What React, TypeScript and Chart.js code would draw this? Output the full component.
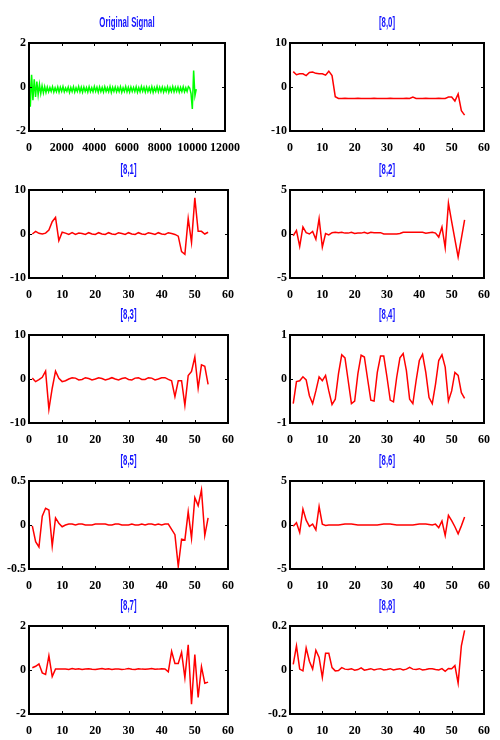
import React, { useEffect, useRef } from "react";
import { Chart, registerables } from "chart.js";

Chart.register(...registerables);

// ---------- DATA ----------
const ORIG_STEP = 80; // sample spacing of the original signal
const originalSignal = [
  0.95, -0.9, 0.55, -0.6, 0.35, -0.45, 0.25, -0.35, 0.12, -0.3, 0.05, -0.27, 0.02, -0.25,
  0.0, -0.22, -0.02, -0.2, 0.01, -0.23, -0.03, -0.21, 0.0, -0.24,
  -0.01, -0.2, 0.02, -0.22, -0.04, -0.19, 0.0, -0.25, -0.02, -0.21,
  0.01, -0.23, -0.03, -0.2, 0.02, -0.22, -0.01, -0.24, 0.0, -0.2,
  -0.02, -0.23, 0.01, -0.21, -0.03, -0.22, 0.02, -0.2, -0.01, -0.24,
  0.0, -0.21, -0.02, -0.23, 0.01, -0.2, -0.03, -0.22, 0.02, -0.25,
  -0.01, -0.2, 0.0, -0.22, -0.02, -0.21, 0.01, -0.24, -0.03, -0.2,
  0.02, -0.22, -0.01, -0.23, 0.0, -0.2, -0.02, -0.21, 0.01, -0.24,
  -0.03, -0.22, 0.02, -0.2, -0.01, -0.23, 0.0, -0.21, -0.02, -0.22,
  0.01, -0.25, -0.03, -0.2, 0.02, -0.22, -0.01, -0.21, 0.0, -0.23,
  -0.02, -0.2, 0.01, -0.24, -0.03, -0.21, 0.02, -0.22, -0.01, -0.2,
  0.0, -0.23, -0.02, -0.21, 0.01, -0.22, -0.03, -0.2, 0.02,
  -0.05, -0.3, -1.0, 0.75, -0.4, -0.1,
];

const coefIndex = [
  1, 2, 3, 4, 5, 6, 7, 8, 9, 10, 11, 12, 13, 14, 15, 16, 17, 18, 19, 20,
  21, 22, 23, 24, 25, 26, 27, 28, 29, 30, 31, 32, 33, 34, 35, 36, 37, 38, 39, 40,
  41, 42, 43, 44, 45, 46, 47, 48, 49, 50, 51, 52, 53, 54,
];

const coef80 = [
  3.5, 2.8, 3.0, 3.0, 2.6, 3.3, 3.4, 3.1, 3.0, 3.0, 2.7, 3.6, 2.6,
  -2.2,
  -2.6, -2.6, -2.55, -2.6, -2.6, -2.6, -2.55, -2.6, -2.6, -2.6, -2.6, -2.55, -2.6, -2.6,
  -2.6, -2.6, -2.55, -2.6, -2.6, -2.6, -2.6, -2.55, -2.6,
  -2.3,
  -2.6, -2.6, -2.6, -2.55, -2.6, -2.6, -2.6, -2.55, -2.6, -2.6,
  -2.3, -2.3, -3.2, -1.6, -5.4, -6.4,
];

const coef81 = [
  0, 0.6, 0.15, 0, 0.2, 0.9, 2.8, 3.8, -1.5, 0.4,
  0.2, -0.1, 0.3, -0.1, 0.2, 0.1, -0.1, 0.3, 0, -0.1, 0.3, 0, -0.1, 0.3, 0, -0.1, 0.3,
  0.1, -0.1, 0.3, 0, -0.1, 0.3, 0, -0.1, 0.3, 0.1, -0.1, 0.3, 0, -0.1, 0.3, 0.1, -0.1,
  -0.5, -4.0, -4.6, 3.5, -1.9, 8.2, 0.6, 0.6, 0, 0.4,
];

const coef82 = [
  -0.2, 0.4, -1.4, 0.8, 0.15, 0, 0.3, -0.6, 1.75, -1.5, 0.05, -0.1, 0.15,
  0.2, 0.15, 0.2, 0.1, 0.1, 0.2, 0.05, 0.1, 0.1, 0.2, 0.05, 0.2, 0.15, 0.15, 0.15, 0.0,
  0.0, 0.0, 0.0, 0.0, 0.05, 0.2, 0.2, 0.2, 0.2, 0.2, 0.2, 0.2, 0.1, 0.15, 0.2, 0.1,
  -0.35, 0.8, -1.55, 3.5, 1.4, -0.6, -2.6, -0.5, 1.6,
];

const coef83 = [
  0.2, -0.6, -0.15, 0.4, 1.8, -6.9, -2.1, 1.8, 0.15, -0.6, -0.4,
  0, 0.3, 0.2, -0.2, -0.1, 0.3, 0.1, -0.2, 0, 0.3, 0.1, -0.2, 0, 0.3, 0, -0.2,
  0.1, 0.3, -0.1, -0.2, 0.2, 0.3, -0.1, -0.1, 0.3, 0.2, -0.2, 0, 0.3, 0.3, -0.1,
  -0.4, -4.0, -0.4, -0.4, -6.0, 0.8, 1.7, 5.0, -2.1, 3.2, 2.9, -1.2,
];

const coef84 = [
  -0.56, -0.06, -0.04, 0.05, -0.02, -0.38, -0.56, -0.27, 0.05, -0.04,
  0.08, -0.27, -0.58, -0.46, 0.12, 0.55, 0.48, -0.04, -0.56, -0.5,
  0.12, 0.54, 0.5, 0, -0.48, -0.5, 0.15, 0.52, 0.52, 0.04,
  -0.48, -0.52, 0.04, 0.48, 0.58, 0.19, -0.46, -0.56, -0.04, 0.42,
  0.56, 0.15, -0.42, -0.56, -0.12, 0.42, 0.55, 0.27, -0.5, -0.27,
  0.15, 0.08, -0.31, -0.44,
];

const coef85 = [
  -0.01, -0.19, -0.25, 0.1, 0.19, 0.17, -0.24, 0.08, 0.02, -0.02,
  0, 0.01, 0.01, 0, 0.01, 0.01, 0, 0, 0, 0.01, 0.01, 0.01, 0.01, 0, 0, 0.01,
  0.01, 0, 0, 0, 0.01, 0, 0, 0.01, 0, 0.01, 0.01, 0, 0.01, 0, 0.01, 0.01,
  -0.05, -0.11, -0.47, -0.16, -0.17, 0.15, -0.15, 0.31, 0.22, 0.4, -0.12, 0.08,
];

const coef86 = [
  -0.15, 0.25, -0.85, 1.8, 0.55, -0.15, 0.1, -0.55, 2.1, 0.1, -0.05,
  0, 0, 0, 0, 0.05, 0.1, 0.1, 0.1, 0.05, 0, 0, 0, 0, 0, 0, 0, 0.05,
  0.1, 0.1, 0.1, 0.05, 0, 0, 0, 0, 0, 0, 0.05, 0.1, 0.1, 0.1, 0.05, 0,
  0.1, -0.3, 0.45, -1.2, 1.1, 0.5, -0.2, -1.0, -0.1, 0.9,
];

const coef87 = [
  0.1, 0.17, 0.28, -0.13, -0.2, 0.65, -0.3, 0.05,
  0.05, 0.05, 0.05, 0.02, 0.07, 0.03, 0.06, 0.02, 0.05, 0.06, 0.03, 0.02, 0.05,
  0.07, 0.03, 0.06, 0.02, 0.05, 0.05, 0.02, 0.04, 0.07, 0.03, 0.02, 0.06, 0.04,
  0.03, 0.05, 0.07, 0.03, 0.04, 0.06, 0.05,
  -0.08, 0.85, 0.3, 0.3, 0.8, -0.35, 1.15, -1.55, 0.7, -1.25, 0.15, -0.6, -0.55,
];

const coef88 = [
  0.026, 0.11, 0.004, -0.004, 0.1, 0.04, 0.004, 0.09, 0.057, -0.034, 0.076, 0.076,
  0.011, -0.004, -0.002, 0.011,
  0.004, 0.002, 0.006, -0.001, 0.002, 0.01, -0.001, 0.002, 0.006, 0.0, 0.004,
  0.006, 0.0, 0.002, 0.006, 0.0, 0.003, 0.006, 0.0, 0.004, 0.012, 0.004, 0.002,
  0.006, 0.0, 0.002, 0.006, 0.006, 0.002, 0.0, 0.006,
  -0.006, 0.007, 0.006, 0.02, -0.06, 0.11, 0.18,
];

const panelTitles = ["Original Signal", "[8,0]", "[8,1]", "[8,2]", "[8,3]", "[8,4]", "[8,5]", "[8,6]", "[8,7]", "[8,8]"];
const panelSeries = [originalSignal, coef80, coef81, coef82, coef83, coef84, coef85, coef86, coef87, coef88];
const panelYLimits = [2, 10, 10, 5, 10, 1, 0.5, 5, 2, 0.2];
const origXMax = 12000;
const origXStep = 2000;
const coefXMax = 60;
const coefXStep = 10;

// ---------- LAYOUT ----------
const AXIS_TOPS = [43, 189.5, 335, 480.5, 626];
const AXIS_H = 88;
const TITLE_SPACE = 30;
const CANVAS_W = 250;
const CANVAS_H = 140;
const COL_LEFT = [29, 290];
const COL_RIGHT = [228, 489];

const TICK_FONT = { family: "'Liberation Serif', 'Times New Roman', serif", size: 12, weight: "bold" as const };

// MATLAB-like box with inward tick marks on all four sides
const framePlugin = {
  id: "matlabFrame",
  afterDatasetsDraw(chart: any) {
    const { ctx, chartArea: a, scales } = chart;
    ctx.save();
    ctx.strokeStyle = "#000";
    ctx.lineWidth = 2;
    ctx.strokeRect(a.left, a.top, a.right - a.left, a.bottom - a.top);
    ctx.lineWidth = 1;
    ctx.beginPath();
    scales.x.ticks.forEach((t: any) => {
      const px = Math.round(scales.x.getPixelForValue(t.value)) + 0.5;
      ctx.moveTo(px, a.top);
      ctx.lineTo(px, a.top + 3);
      ctx.moveTo(px, a.bottom);
      ctx.lineTo(px, a.bottom - 3);
    });
    scales.y.ticks.forEach((t: any) => {
      const py = Math.round(scales.y.getPixelForValue(t.value)) + 0.5;
      ctx.moveTo(a.left, py);
      ctx.lineTo(a.left + 3, py);
      ctx.moveTo(a.right, py);
      ctx.lineTo(a.right - 3, py);
    });
    ctx.stroke();
    ctx.restore();
  },
};

// Narrow (horizontally condensed) blue title, centred over the plot box
const condensedTitlePlugin = {
  id: "condTitle",
  afterDraw(chart: any, _args: any, opts: any) {
    const { ctx, chartArea: a } = chart;
    ctx.save();
    ctx.font = "bold 14px 'Liberation Sans', Arial, sans-serif";
    ctx.fillStyle = "#1414ff";
    ctx.textAlign = "center";
    ctx.textBaseline = "middle";
    ctx.translate((a.left + a.right) / 2, a.top - 20);
    ctx.scale(0.56, 1);
    ctx.fillText(opts.text, 0, 0);
    ctx.restore();
  },
};

function Panel({ index }: { index: number }) {
  const ref = useRef<HTMLCanvasElement>(null);
  const col = index % 2;
  const row = Math.floor(index / 2);
  const isOrig = index === 0;
  const canvasLeft = col * CANVAS_W;
  const canvasTop = AXIS_TOPS[row] - TITLE_SPACE;

  useEffect(() => {
    if (!ref.current) return;
    const series = panelSeries[index];
    const points = series.map((v, i) => ({ x: isOrig ? i * ORIG_STEP : coefIndex[i], y: v }));
    const lim = panelYLimits[index];
    const yAxisWidth = COL_LEFT[col] - canvasLeft;
    const rightPad = canvasLeft + CANVAS_W - COL_RIGHT[col];
    const chart = new Chart(ref.current, {
      type: "line",
      data: {
        datasets: [
          {
            data: points,
            borderColor: isOrig ? "#00ff00" : "#ff0000",
            borderWidth: 1.5,
            pointRadius: 0,
            tension: 0,
            fill: false,
          },
        ],
      },
      options: {
        animation: false,
        responsive: false,
        events: [],
        layout: { padding: { left: 0, right: rightPad, top: TITLE_SPACE, bottom: 0 } },
        plugins: {
          legend: { display: false },
          tooltip: { enabled: false },
          title: { display: false },
          condTitle: { text: panelTitles[index] },
        },
        scales: {
          x: {
            type: "linear",
            min: 0,
            max: isOrig ? origXMax : coefXMax,
            grid: { display: false, drawTicks: false },
            border: { display: false },
            ticks: {
              stepSize: isOrig ? origXStep : coefXStep,
              color: "#000",
              font: TICK_FONT,
              padding: 10,
              maxRotation: 0,
              autoSkip: false,
              callback: (v: any) => String(v),
            },
            afterFit: (axis: any) => {
              axis.height = CANVAS_H - TITLE_SPACE - AXIS_H;
            },
          },
          y: {
            type: "linear",
            min: -lim,
            max: lim,
            grid: { display: false, drawTicks: false },
            border: { display: false },
            ticks: {
              stepSize: lim,
              color: "#000",
              font: TICK_FONT,
              padding: 3,
              callback: (v: any) => String(v),
            },
            afterFit: (axis: any) => {
              axis.width = yAxisWidth;
            },
          },
        },
      },
      plugins: [framePlugin, condensedTitlePlugin],
    } as any);
    return () => chart.destroy();
  }, []);

  return (
    <canvas
      ref={ref}
      width={CANVAS_W}
      height={CANVAS_H}
      style={{ position: "absolute", left: canvasLeft, top: canvasTop, width: CANVAS_W, height: CANVAS_H }}
    />
  );
}

export default function App() {
  return (
    <div style={{ position: "absolute", left: 0, top: 0, width: 500, height: 740, background: "#fff", overflow: "hidden" }}>
      {panelTitles.map((_, i) => (
        <Panel key={i} index={i} />
      ))}
    </div>
  );
}
